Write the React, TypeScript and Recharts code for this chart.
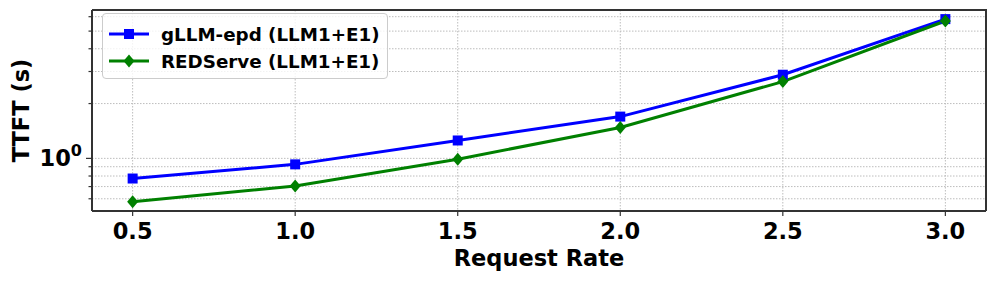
import React from 'react';
import {
  LineChart,
  Line,
  XAxis,
  YAxis,
  CartesianGrid,
} from 'recharts';

const requestRates = [0.5, 1.0, 1.5, 2.0, 2.5, 3.0];
const gllmEpd = [0.775, 0.927, 1.254, 1.696, 2.88, 5.82];
const redServe = [0.577, 0.706, 0.99, 1.477, 2.64, 5.68];
const xTicks = [0.5, 1.0, 1.5, 2.0, 2.5, 3.0];
const yTicks = [0.6, 0.7, 0.8, 0.9, 1, 2, 3, 4, 5, 6];

const series = [
  { key: 'gllm', name: 'gLLM-epd (LLM1+E1)', color: '#0000ff', marker: 'square' },
  { key: 'red', name: 'REDServe (LLM1+E1)', color: '#008000', marker: 'diamond' },
];

const data = requestRates.map((r, i) => ({ rate: r, gllm: gllmEpd[i], red: redServe[i] }));

const FONT = 'DejaVu Sans, sans-serif';
const AXIS = '#333';
const X_DOMAIN = [0.375, 3.125];
const Y_DOMAIN = [0.514, 6.53];
const W = 996;
const H = 282;
const MARGIN = { top: 10, right: 10, bottom: 0, left: 0 };
const Y_AXIS_W = 92;
const X_AXIS_H = 71;

function Marker({ cx, cy, shape, color }: any) {
  if (cx == null || cy == null) return null;
  if (shape === 'square') {
    return <rect x={cx - 5} y={cy - 5} width={10} height={10} fill={color} />;
  }
  return (
    <polygon
      points={`${cx},${cy - 6.5} ${cx + 5.5},${cy} ${cx},${cy + 6.5} ${cx - 5.5},${cy}`}
      fill={color}
    />
  );
}

function XTick({ x, y, payload }: any) {
  return (
    <g>
      <line x1={x} x2={x} y1={y} y2={y + 5} stroke={AXIS} strokeWidth={1.2} />
      <text x={x} y={y + 27.5} textAnchor="middle" fontFamily={FONT} fontWeight="bold" fontSize={22.5} fill="#000">
        {payload.value.toFixed(1)}
      </text>
    </g>
  );
}

function YTick({ x, y, payload }: any) {
  const major = payload.value === 1;
  return (
    <g>
      <line x1={x - (major ? 6 : 3.5)} x2={x} y1={y} y2={y} stroke={AXIS} strokeWidth={1.2} />
      {major && (
        <text x={x - 10} y={y + 8} textAnchor="end" fontFamily={FONT} fontWeight="bold" fontSize={22.5} fill="#000">
          10
          <tspan dy={-10} fontSize={16}>0</tspan>
        </text>
      )}
    </g>
  );
}

function LegendBox() {
  return (
    <div
      style={{
        position: 'absolute',
        left: 102,
        top: 13,
        width: 286,
        height: 66,
        boxSizing: 'border-box',
        border: '1px solid #cccccc',
        borderRadius: 4,
        background: 'rgba(255,255,255,0.8)',
        fontFamily: FONT,
        fontWeight: 'bold',
        fontSize: 18.3,
      }}
    >
      {series.map((s, i) => (
        <div key={s.key} style={{ position: 'absolute', left: 6, top: 9 + i * 27, height: 22, display: 'flex', alignItems: 'center' }}>
          <svg width={40} height={22}>
            <line x1={0} x2={40} y1={11} y2={11} stroke={s.color} strokeWidth={3} />
            <Marker cx={20} cy={11} shape={s.marker} color={s.color} />
          </svg>
          <span style={{ marginLeft: 12, color: '#000', whiteSpace: 'nowrap' }}>{s.name}</span>
        </div>
      ))}
    </div>
  );
}

export default function App() {
  return (
    <div style={{ position: 'absolute', left: 0, top: 0, width: W, height: H, background: '#fff' }}>
      <LineChart width={W} height={H} data={data} margin={MARGIN}>
        <CartesianGrid stroke="#bdbdbd" strokeDasharray="1.5 1.5" strokeWidth={1} verticalValues={xTicks} horizontalValues={yTicks} />
        <XAxis
          dataKey="rate"
          type="number"
          domain={X_DOMAIN}
          ticks={xTicks}
          height={X_AXIS_H}
          axisLine={{ stroke: AXIS, strokeWidth: 2 }}
          tickLine={false}
          tickSize={0}
          tickMargin={0}
          tick={<XTick />}
          allowDataOverflow
          label={({ viewBox }: any) => (
            <text
              x={viewBox.x + viewBox.width / 2}
              y={viewBox.y + 55}
              textAnchor="middle"
              fontFamily={FONT}
              fontWeight="bold"
              fontSize={22.5}
              fill="#000"
            >
              Request Rate
            </text>
          )}
        />
        <YAxis
          scale="log"
          type="number"
          domain={Y_DOMAIN}
          ticks={yTicks}
          width={Y_AXIS_W}
          axisLine={{ stroke: AXIS, strokeWidth: 2 }}
          tickLine={false}
          tickSize={0}
          tickMargin={0}
          tick={<YTick />}
          allowDataOverflow
          interval={0}
          label={({ viewBox }: any) => (
            <text
              x={21}
              y={viewBox.y + viewBox.height / 2}
              textAnchor="middle"
              dominantBaseline="central"
              transform={`rotate(-90, 21, ${viewBox.y + viewBox.height / 2})`}
              fontFamily={FONT}
              fontWeight="bold"
              fontSize={22.5}
              fill="#000"
            >
              TTFT (s)
            </text>
          )}
        />
        {series.map((s) => (
          <Line
            key={s.key}
            dataKey={s.key}
            name={s.name}
            stroke={s.color}
            strokeWidth={3}
            isAnimationActive={false}
            dot={(p: any) => <Marker key={`${s.key}-${p.index}`} cx={p.cx} cy={p.cy} shape={s.marker} color={s.color} />}
            activeDot={false}
          />
        ))}
      </LineChart>
      {/* top and right spines of the plot frame */}
      <div
        style={{
          position: 'absolute',
          left: MARGIN.left + Y_AXIS_W,
          top: MARGIN.top - 1,
          width: W - MARGIN.left - MARGIN.right - Y_AXIS_W + 1,
          height: H - MARGIN.top - MARGIN.bottom - X_AXIS_H + 1,
          boxSizing: 'border-box',
          borderTop: `2px solid ${AXIS}`,
          borderRight: `2px solid ${AXIS}`,
          pointerEvents: 'none',
        }}
      />
      <LegendBox />
    </div>
  );
}
